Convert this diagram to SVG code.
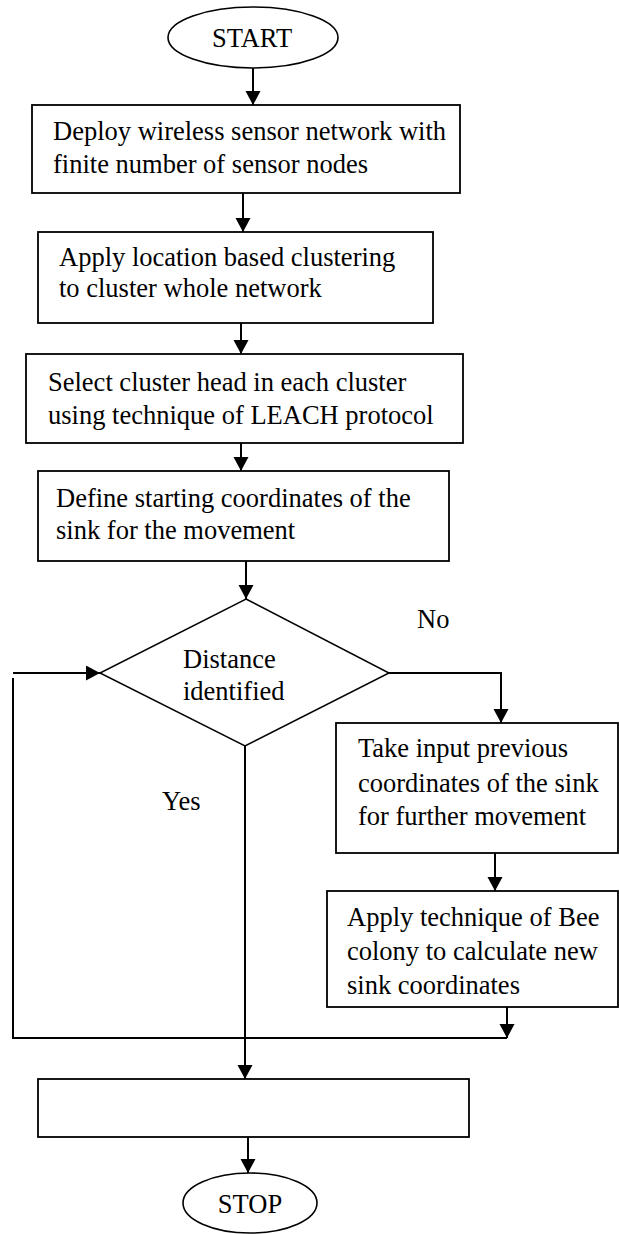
<svg xmlns="http://www.w3.org/2000/svg" width="619" height="1234" viewBox="0 0 619 1234">
<defs>
<style>
.box{fill:#fff;stroke:#000;stroke-width:1.8}
.dia{fill:#fff;stroke:#000;stroke-width:1.5}
.ell{fill:#fff;stroke:#000;stroke-width:1.6}
.t{font-family:"Liberation Serif","Times New Roman",serif;font-size:26.5px;fill:#000}
.tc{text-anchor:middle}
.c{fill:none;stroke:#000;stroke-width:2}
</style>
<marker id="ah" markerUnits="userSpaceOnUse" markerWidth="16" markerHeight="16" refX="14" refY="7.5" orient="auto">
<path d="M0,0 L14,7.5 L0,15 z" fill="#000"/>
</marker>
</defs>
<rect width="619" height="1234" fill="#fff"/>
<g id="connectors">
<path class="c" d="M253,68 V105" marker-end="url(#ah)"/>
<path class="c" d="M243,193 V232" marker-end="url(#ah)"/>
<path class="c" d="M241,323 V354" marker-end="url(#ah)"/>
<path class="c" d="M241,443 V471" marker-end="url(#ah)"/>
<path class="c" d="M246,561 V599" marker-end="url(#ah)"/>
<path class="c" d="M389,673 H501 V723" marker-end="url(#ah)"/>
<path class="c" d="M495,853 V891" marker-end="url(#ah)"/>
<path class="c" d="M507,1007 V1038" marker-end="url(#ah)"/>
<path class="c" d="M507,1038 H13 V678"/>
<path class="c" d="M13,673 H100" marker-end="url(#ah)"/>
<path class="c" d="M245,746 V1079" marker-end="url(#ah)"/>
<path class="c" d="M248,1137 V1173" marker-end="url(#ah)"/>
<text class="t" x="417" y="628">No</text>
<text class="t" x="162" y="810">Yes</text>
</g>
<g id="start">
<ellipse class="ell" cx="253" cy="37.5" rx="85" ry="30.5"/>
<text class="t tc" x="252" y="47">START</text>
</g>
<g id="deploy">
<rect class="box" x="32" y="105" width="428" height="88"/>
<text class="t" x="53" y="140">Deploy wireless sensor network with</text>
<text class="t" x="53" y="173">finite number of sensor nodes</text>
</g>
<g id="cluster">
<rect class="box" x="38" y="232" width="395" height="91"/>
<text class="t" x="59" y="266">Apply location based clustering</text>
<text class="t" x="59" y="297">to cluster whole network</text>
</g>
<g id="select-ch">
<rect class="box" x="26" y="354" width="437" height="89"/>
<text class="t" x="48" y="391">Select cluster head in each cluster</text>
<text class="t" x="48" y="424">using technique of LEACH protocol</text>
</g>
<g id="define">
<rect class="box" x="38" y="471" width="411" height="90"/>
<text class="t" x="56" y="507">Define starting coordinates of the</text>
<text class="t" x="56" y="539">sink for the movement</text>
</g>
<g id="decision">
<polygon class="dia" points="246,599 389,673 245,746 100,673"/>
<text class="t" x="183" y="668">Distance</text>
<text class="t" x="183" y="700">identified</text>
</g>
<g id="take-input">
<rect class="box" x="336" y="723" width="282" height="130"/>
<text class="t" x="358" y="757">Take input previous</text>
<text class="t" x="358" y="792">coordinates of the sink</text>
<text class="t" x="358" y="825">for further movement</text>
</g>
<g id="bee-colony">
<rect class="box" x="327" y="891" width="291" height="116"/>
<text class="t" x="347" y="926">Apply technique of Bee</text>
<text class="t" x="347" y="960">colony to calculate new</text>
<text class="t" x="347" y="994">sink coordinates</text>
</g>
<g id="empty-box">
<rect class="box" x="38" y="1079" width="431" height="58"/>
</g>
<g id="stop">
<ellipse class="ell" cx="250" cy="1203" rx="67" ry="30"/>
<text class="t tc" x="250" y="1213">STOP</text>
</g>
</svg>
